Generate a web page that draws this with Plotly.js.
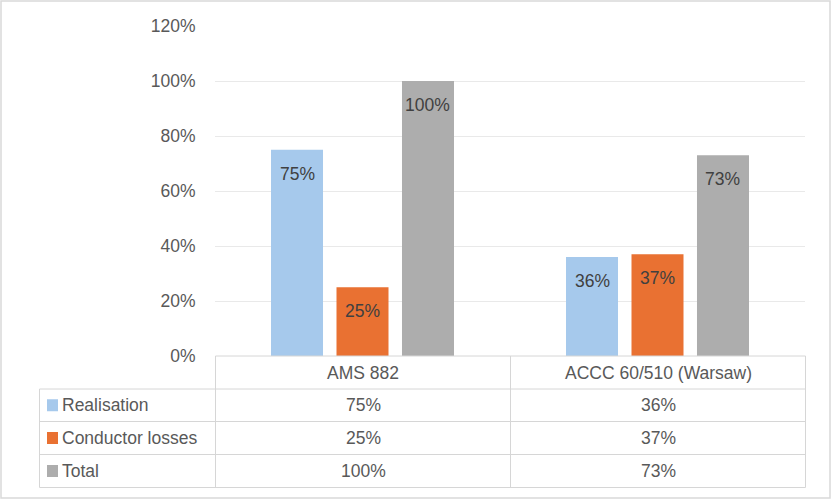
<!DOCTYPE html>
<html>
<head>
<meta charset="utf-8">
<script src="https://cdn.plot.ly/plotly-3.0.1.min.js"></script>
<style>
  html, body { margin: 0; padding: 0; background: #ffffff; }
  #chart { width: 832px; height: 500px; }
</style>
</head>
<body>
<div id="chart"></div>
<script>
// Conductor comparison: share of realisation, conductor losses and total
const categories = ['AMS 882', 'ACCC 60/510 (Warsaw)'];
const seriesNames = ['Realisation', 'Conductor losses', 'Total'];
const realisation = [75, 36];
const conductorLosses = [25, 37];
const total = [100, 73];
const yTicks = [0, 20, 40, 60, 80, 100, 120];
const yTickLabels = ['0%', '20%', '40%', '60%', '80%', '100%', '120%'];

const seriesValues = [realisation, conductorLosses, total];
const colors = ['#A6C9EC', '#E97132', '#ADADAD'];

const W = 832, H = 500;
const M = { l: 215, r: 27, t: 26, b: 144 };
const plotW = W - M.l - M.r;   // 590
const plotH = H - M.t - M.b;   // 330
const bargap = 0.334;
const bargroupgap = 0.206;

// pixel -> paper coordinate helpers for the data table drawn under the axis
const px = x => (x - M.l) / plotW;
const py = y => (H - M.b - y) / plotH;

const fontFamily = '"Liberation Sans", Arial, sans-serif';
const textColor = '#595959';
const labelColor = '#404040';
const fs = 17.5;

const traces = seriesNames.map((name, i) => ({
  type: 'bar',
  name: name,
  x: categories,
  y: seriesValues[i],
  marker: { color: colors[i] },
  hoverinfo: 'skip',
  showlegend: false
}));

const annotations = [];
const shapes = [];

// data labels inside the top of each bar
const catW = plotW / categories.length;
const slot = catW * (1 - bargap) / seriesNames.length;
seriesValues.forEach((vals, i) => {
  vals.forEach((v, j) => {
    annotations.push({
      xref: 'x', yref: 'y', x: categories[j], y: v,
      xshift: (i - (seriesNames.length - 1) / 2) * slot,
      yshift: -24,
      text: v + '%', showarrow: false,
      xanchor: 'center', yanchor: 'middle',
      font: { family: fontFamily, size: fs, color: labelColor }
    });
  });
});

// data table geometry (pixels)
const tableLeft = 39.5;
const colEdges = [215.5, 510.5, 805.5];
const rowEdges = [356, 389, 421.5, 454.5, 487.5];
const lineColor = '#d6d6d6';

function line(x0, y0, x1, y1, color, width) {
  shapes.push({
    type: 'line', xref: 'paper', yref: 'paper',
    x0: px(x0), y0: py(y0), x1: px(x1), y1: py(y1),
    line: { color: color || lineColor, width: width || 1 }
  });
}

// horizontal rules
line(colEdges[0], rowEdges[0], colEdges[2], rowEdges[0]);
for (let r = 1; r < rowEdges.length; r++) line(tableLeft, rowEdges[r], colEdges[2], rowEdges[r]);
// vertical rules
line(tableLeft, rowEdges[1], tableLeft, rowEdges[4]);
colEdges.forEach(x => line(x, rowEdges[0], x, rowEdges[4]));

// header row: category names
categories.forEach((c, j) => {
  annotations.push({
    xref: 'paper', yref: 'paper',
    x: px((colEdges[j] + colEdges[j + 1]) / 2), y: py((rowEdges[0] + rowEdges[1]) / 2),
    text: c, showarrow: false, xanchor: 'center', yanchor: 'middle',
    font: { family: fontFamily, size: fs, color: textColor }
  });
});

// series rows: legend key, name and values
seriesNames.forEach((name, i) => {
  const yc = (rowEdges[i + 1] + rowEdges[i + 2]) / 2;
  shapes.push({
    type: 'rect', xref: 'paper', yref: 'paper',
    x0: px(47), x1: px(58), y0: py(yc - 6), y1: py(yc + 6),
    fillcolor: colors[i], line: { width: 0 }
  });
  annotations.push({
    xref: 'paper', yref: 'paper', x: px(60), y: py(yc),
    text: name, showarrow: false, xanchor: 'left', yanchor: 'middle',
    font: { family: fontFamily, size: fs, color: textColor }
  });
  seriesValues[i].forEach((v, j) => {
    annotations.push({
      xref: 'paper', yref: 'paper',
      x: px((colEdges[j] + colEdges[j + 1]) / 2), y: py(yc),
      text: v + '%', showarrow: false, xanchor: 'center', yanchor: 'middle',
      font: { family: fontFamily, size: fs, color: textColor }
    });
  });
});

// chart area border
shapes.push({
  type: 'rect', xref: 'paper', yref: 'paper',
  x0: px(1), x1: px(830), y0: py(1), y1: py(498),
  line: { color: '#d9d9d9', width: 1.5 }, fillcolor: 'rgba(0,0,0,0)'
});

const layout = {
  width: W, height: H,
  margin: M,
  paper_bgcolor: '#ffffff', plot_bgcolor: '#ffffff',
  barmode: 'group', bargap: bargap, bargroupgap: bargroupgap,
  showlegend: false,
  xaxis: {
    type: 'category', showticklabels: false, showgrid: false,
    zeroline: false, showline: false, ticks: ''
  },
  yaxis: {
    range: [0, 120], tickvals: yTicks, ticktext: yTickLabels,
    showgrid: true, gridcolor: '#e9e9e9', gridwidth: 1,
    zeroline: false, showline: false,
    ticks: 'outside', ticklen: 15, tickcolor: 'rgba(0,0,0,0)',
    tickfont: { family: fontFamily, size: fs, color: textColor }
  },
  font: { family: fontFamily },
  shapes: shapes,
  annotations: annotations
};

Plotly.newPlot('chart', traces, layout, { staticPlot: true, displayModeBar: false });
</script>
</body>
</html>
